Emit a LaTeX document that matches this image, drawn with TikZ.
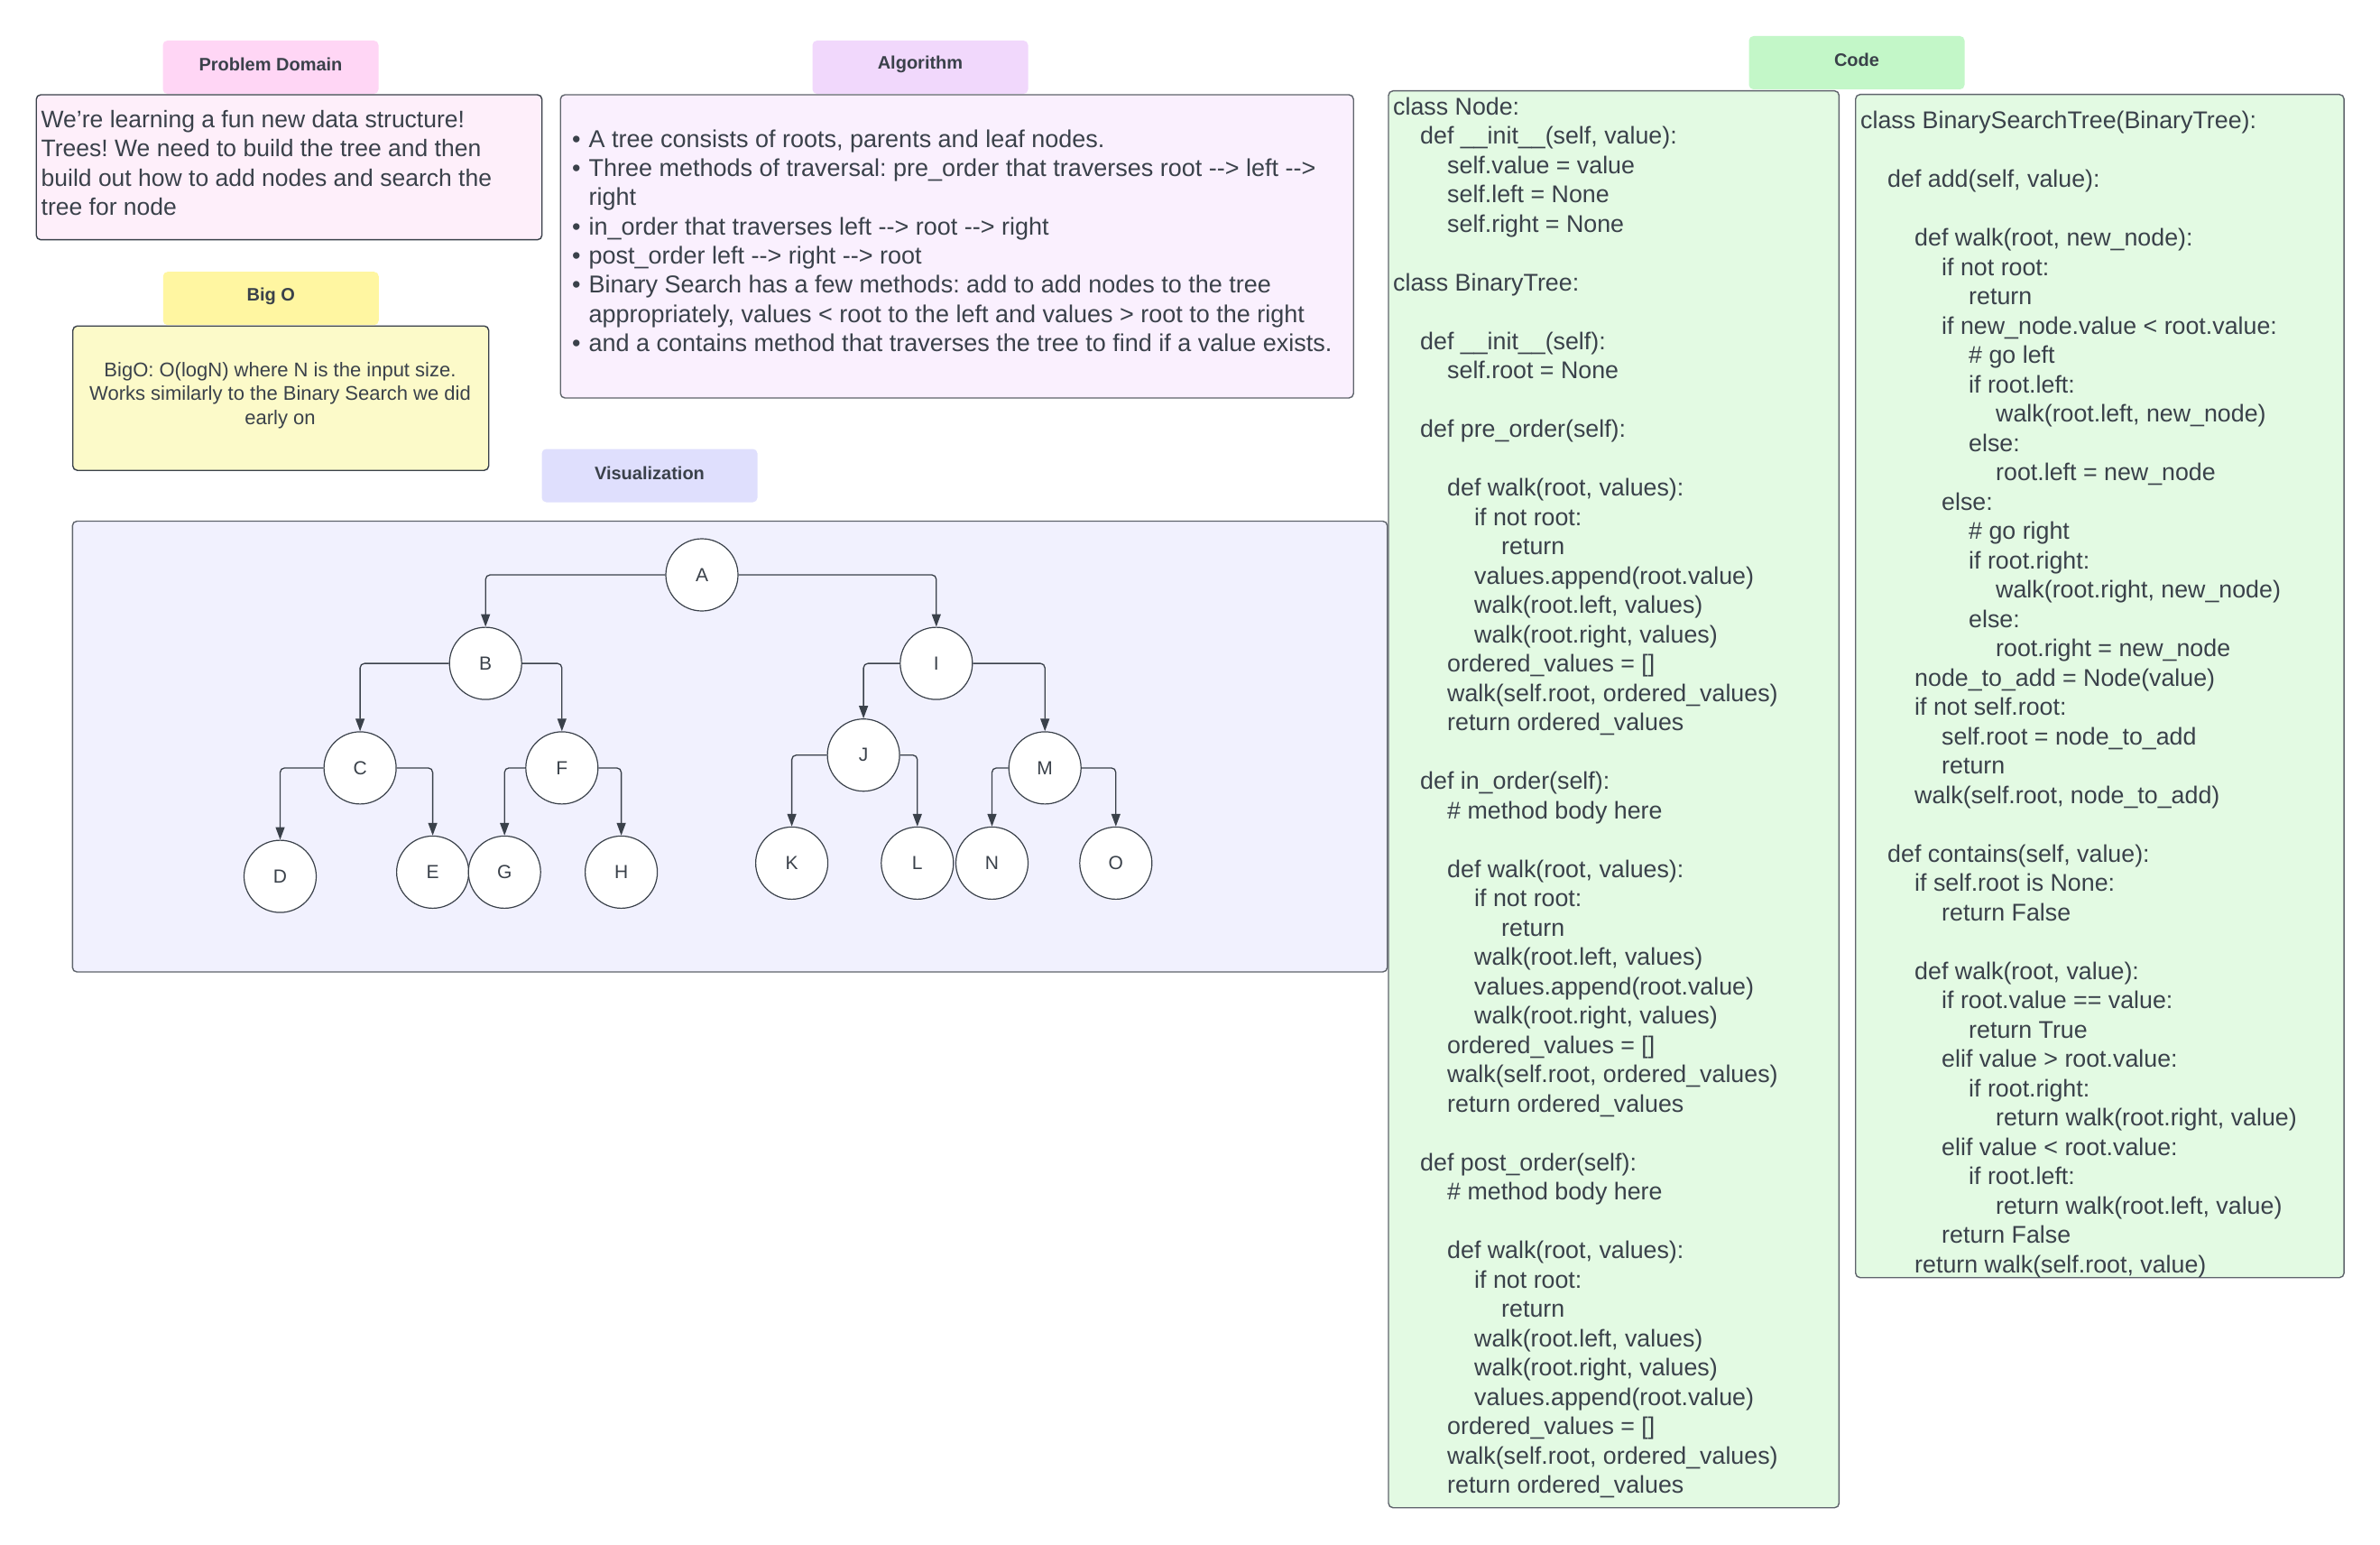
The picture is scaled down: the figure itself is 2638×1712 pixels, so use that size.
\documentclass[tikz,border=0pt]{standalone}
\usepackage{fontspec}
\setmainfont{Liberation Sans}
\usetikzlibrary{arrows.meta}
\frenchspacing
\definecolor{ink}{HTML}{3A414A}
\definecolor{pdTag}{HTML}{FFD6F5}
\definecolor{pdBox}{HTML}{FEEFFA}
\definecolor{algTag}{HTML}{F1D8FC}
\definecolor{algBox}{HTML}{FAF0FE}
\definecolor{bigTag}{HTML}{FFF6A1}
\definecolor{bigBox}{HTML}{FCFAC9}
\definecolor{visTag}{HTML}{DFDFFD}
\definecolor{visBox}{HTML}{F1F1FE}
\definecolor{codeTag}{HTML}{C3F7C8}
\definecolor{codeBox}{HTML}{E3FAE3}
\definecolor{frameA}{HTML}{3A414A}
\definecolor{frameB}{HTML}{5F646C}
\tikzset{
  tagbox/.style={fill=#1, draw=none, rounded corners=5pt, inner sep=0pt,
    minimum width=239pt, minimum height=59pt},
  taglabel/.style={inner sep=0pt, font=\fontsize{20}{24}\selectfont\bfseries, text=ink},
  panel/.style={fill=#1, rounded corners=5pt, line width=1.4pt, inner sep=0pt, anchor=north west},
  pdtext/.style={inner sep=0pt, anchor=base west, text=ink, font=\fontsize{26.5}{32}\selectfont},
  algtext/.style={inner sep=0pt, anchor=base west, text=ink, font=\fontsize{27}{32}\selectfont},
  codetext/.style={inner sep=0pt, anchor=base west, text=ink, font=\fontsize{26.8}{32}\selectfont},
  smalltext/.style={inner sep=0pt, anchor=base, text=ink, font=\fontsize{22}{26}\selectfont},
  tnode/.style={circle, draw=ink, fill=white, minimum size=80pt, inner sep=0pt,
    line width=1.2pt, font=\fontsize{21}{25}\selectfont, text=ink},
  edge/.style={draw=ink, line width=1.3pt, rounded corners=5pt,
    -{Triangle[width=10pt,length=14pt]}}
}
\begin{document}
\begin{tikzpicture}[x=1pt,y=-1pt]
\useasboundingbox (0,0) rectangle (2638,1712);
\fill[white] (0,0) rectangle (2638,1712);

% ---------- Problem Domain ----------
\node[panel=pdBox, draw=frameA, minimum width=560.5pt, minimum height=160.7pt] (pdbox) at (39.5,104.3) {};
\node[tagbox=pdTag] (pdtag) at (300,74.5) {};
\node[taglabel] (pdlabel) at (300,71.7) {Problem Domain};
\node[pdtext] (pd1) at (45.5,141.6) {We're learning a fun new data structure!};
\node[pdtext] (pd2) at (45.5,173.9) {Trees! We need to build the tree and then};
\node[pdtext] (pd3) at (45.5,206.2) {build out how to add nodes and search the};
\node[pdtext] (pd4) at (45.5,238.5) {tree for node};

% ---------- Algorithm ----------
\node[panel=algBox, draw=frameB, minimum width=879pt, minimum height=336pt] (algbox) at (620.5,104.3) {};
\node[tagbox=algTag] (algtag) at (1020,74.5) {};
\node[taglabel] (alglabel) at (1020,71.7) {Algorithm};
\foreach \ln in {0,1,3,4,5,7}{
  \node[algtext] (bul\ln) at (634,{163.2+32.3*\ln}) {•};
}
\node[algtext] (al0) at (652.4,163.2) {A tree consists of roots, parents and leaf nodes.};
\node[algtext] (al1) at (652.4,195.5) {Three methods of traversal: pre\_order that traverses root -\kern0pt-> left -\kern0pt->};
\node[algtext] (al2) at (652.4,227.8) {right};
\node[algtext] (al3) at (652.4,260.1) {in\_order that traverses left -\kern0pt-> root -\kern0pt-> right};
\node[algtext] (al4) at (652.4,292.4) {post\_order left -\kern0pt-> right -\kern0pt-> root};
\node[algtext] (al5) at (652.4,324.7) {Binary Search has a few methods: add to add nodes to the tree};
\node[algtext] (al6) at (652.4,357.0) {appropriately, values < root to the left and values > root to the right};
\node[algtext] (al7) at (652.4,389.3) {and a contains method that traverses the tree to find if a value exists.};

% ---------- Big O ----------
\node[panel=bigBox, draw=frameA, minimum width=461pt, minimum height=160pt] (bigbox) at (80,360.5) {};
\node[tagbox=bigTag] (bigtag) at (300.25,330.7) {};
\node[taglabel] (biglabel) at (300.25,327.9) {Big O};
\node[smalltext] (bo1) at (310.5,417.0) {BigO: O(logN) where N is the input size.};
\node[smalltext] (bo2) at (310.5,443.7) {Works similarly to the Binary Search we did};
\node[smalltext] (bo3) at (310.5,470.4) {early on};

% ---------- Visualization ----------
\node[panel=visBox, draw=frameB, minimum width=1457.4pt, minimum height=499.5pt] (visbox) at (79.6,576.8) {};
\node[tagbox=visTag] (vistag) at (720,527) {};
\node[taglabel] (vislabel) at (720,524.2) {Visualization};

\node[tnode] (A) at (778.0,637.0) {A};
\node[tnode] (B) at (538.2,735.1) {B};
\node[tnode] (I) at (1037.8,735.1) {I};
\node[tnode] (C) at (399.1,850.9) {C};
\node[tnode] (F) at (622.8,850.9) {F};
\node[tnode] (J) at (957.1,836.7) {J};
\node[tnode] (M) at (1158.2,850.9) {M};
\node[tnode] (D) at (310.5,971.1) {D};
\node[tnode] (E) at (479.6,966.4) {E};
\node[tnode] (G) at (559.2,966.4) {G};
\node[tnode] (H) at (688.6,966.4) {H};
\node[tnode] (K) at (877.6,956.4) {K};
\node[tnode] (L) at (1016.8,956.4) {L};
\node[tnode] (N) at (1099.5,956.4) {N};
\node[tnode] (O) at (1236.8,956.4) {O};

\draw[edge] (A.west) -| (B.north);
\draw[edge] (A.east) -| (I.north);
\draw[edge] (B.west) -| (C.north);
\draw[edge] (B.east) -| (F.north);
\draw[edge] (I.west) -| (J.north);
\draw[edge] (I.east) -| (M.north);
\draw[edge] (C.west) -| (D.north);
\draw[edge] (C.east) -| (E.north);
\draw[edge] (F.west) -| (G.north);
\draw[edge] (F.east) -| (H.north);
\draw[edge] (J.west) -| (K.north);
\draw[edge] (J.east) -| (L.north);
\draw[edge] (M.west) -| (N.north);
\draw[edge] (M.east) -| (O.north);

% ---------- Code ----------
\node[panel=codeBox, draw=frameB, minimum width=499.4pt, minimum height=1570pt] (codebox1) at (1538.3,100) {};
\node[panel=codeBox, draw=frameB, minimum width=541.4pt, minimum height=1311pt] (codebox2) at (2056,104) {};
\node[tagbox=codeTag] (codetag) at (2058,69.5) {};
\node[taglabel] (codelabel) at (2058,66.7) {Code};

\foreach \ln/\lv/\txt in {
1/0/{class Node:},
2/1/{def \_\_init\_\_(self, value):},
3/2/{self.value = value},
4/2/{self.left = None},
5/2/{self.right = None},
7/0/{class BinaryTree:},
9/1/{def \_\_init\_\_(self):},
10/2/{self.root = None},
12/1/{def pre\_order(self):},
14/2/{def walk(root, values):},
15/3/{if not root:},
16/4/{return},
17/3/{values.append(root.value)},
18/3/{walk(root.left, values)},
19/3/{walk(root.right, values)},
20/2/{ordered\_values = []},
21/2/{walk(self.root, ordered\_values)},
22/2/{return ordered\_values},
24/1/{def in\_order(self):},
25/2/{\# method body here},
27/2/{def walk(root, values):},
28/3/{if not root:},
29/4/{return},
30/3/{walk(root.left, values)},
31/3/{values.append(root.value)},
32/3/{walk(root.right, values)},
33/2/{ordered\_values = []},
34/2/{walk(self.root, ordered\_values)},
35/2/{return ordered\_values},
37/1/{def post\_order(self):},
38/2/{\# method body here},
40/2/{def walk(root, values):},
41/3/{if not root:},
42/4/{return},
43/3/{walk(root.left, values)},
44/3/{walk(root.right, values)},
45/3/{values.append(root.value)},
46/2/{ordered\_values = []},
47/2/{walk(self.root, ordered\_values)},
48/2/{return ordered\_values}}{
  \node[codetext] (cl\ln) at ({1544+30*\lv},{127.3+32.5*(\ln-1)}) {\txt};
}

\foreach \ln/\lv/\txt in {
1/0/{class BinarySearchTree(BinaryTree):},
3/1/{def add(self, value):},
5/2/{def walk(root, new\_node):},
6/3/{if not root:},
7/4/{return},
8/3/{if new\_node.value < root.value:},
9/4/{\# go left},
10/4/{if root.left:},
11/5/{walk(root.left, new\_node)},
12/4/{else:},
13/5/{root.left = new\_node},
14/3/{else:},
15/4/{\# go right},
16/4/{if root.right:},
17/5/{walk(root.right, new\_node)},
18/4/{else:},
19/5/{root.right = new\_node},
20/2/{node\_to\_add = Node(value)},
21/2/{if not self.root:},
22/3/{self.root = node\_to\_add},
23/3/{return},
24/2/{walk(self.root, node\_to\_add)},
26/1/{def contains(self, value):},
27/2/{if self.root is None:},
28/3/{return False},
30/2/{def walk(root, value):},
31/3/{if root.value == value:},
32/4/{return True},
33/3/{elif value > root.value:},
34/4/{if root.right:},
35/5/{return walk(root.right, value)},
36/3/{elif value < root.value:},
37/4/{if root.left:},
38/5/{return walk(root.left, value)},
39/3/{return False},
40/2/{return walk(self.root, value)}}{
  \node[codetext] (cr\ln) at ({2062+30*\lv},{142.6+32.5*(\ln-1)}) {\txt};
}
\end{tikzpicture}
\end{document}
